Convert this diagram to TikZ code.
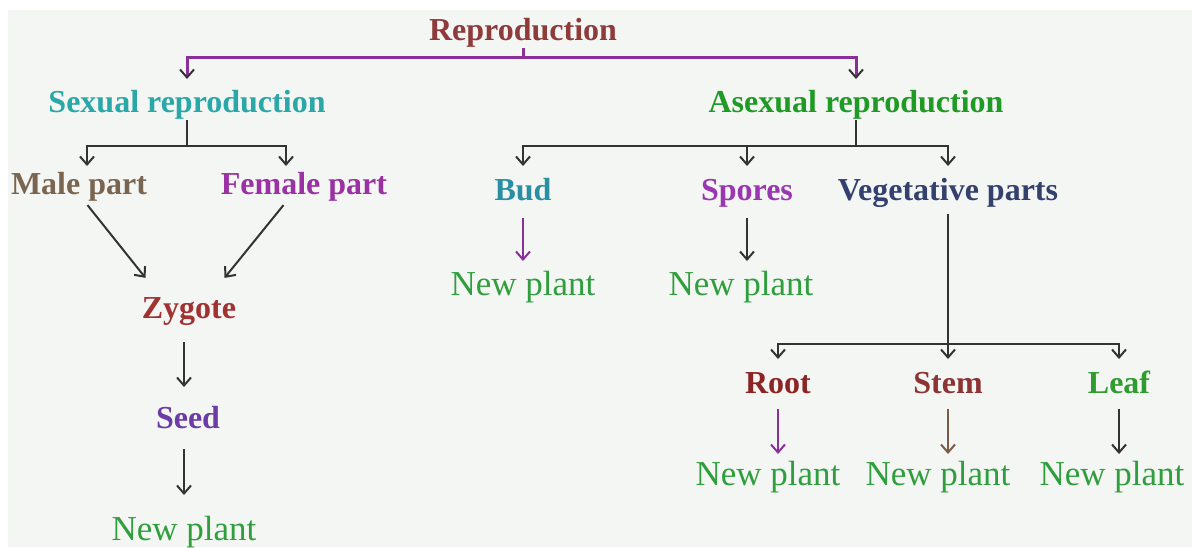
\documentclass[tikz,border=0pt]{standalone}
\usepackage{fontspec}
\setmainfont{Liberation Serif}
\usetikzlibrary{arrows.meta}
\definecolor{bgc}{HTML}{F4F6F4}
\definecolor{cRepro}{HTML}{8E3B3B}
\definecolor{cSex}{HTML}{2AA7A7}
\definecolor{cAsex}{HTML}{1F9A24}
\definecolor{cMale}{HTML}{7A6650}
\definecolor{cFemale}{HTML}{9A32A4}
\definecolor{cBud}{HTML}{2A8FA2}
\definecolor{cSpore}{HTML}{9A36B2}
\definecolor{cVeg}{HTML}{34406E}
\definecolor{cZyg}{HTML}{A03232}
\definecolor{cSeed}{HTML}{6C3CA6}
\definecolor{cRoot}{HTML}{8C2424}
\definecolor{cStem}{HTML}{8C3434}
\definecolor{cLeaf}{HTML}{2E9C2E}
\definecolor{cPlant}{HTML}{2F9E3C}
\definecolor{cLine}{HTML}{333333}
\definecolor{cBar}{HTML}{8A2F9A}
\definecolor{cBrown}{HTML}{7A5A48}

\begin{document}
\begin{tikzpicture}[x=0.5pt, y=-0.5pt, line width=1pt, draw=cLine,
  >={Straight Barb[length=4pt,width=7pt]},
  lbl/.style = {font=\fontsize{16}{19}\selectfont\bfseries, text height=11pt, text depth=3.5pt, inner sep=0pt, anchor=base},
  plant/.style = {font=\fontsize{17.5}{21}\selectfont, text=cPlant, text height=11.5pt, text depth=4pt, inner sep=0pt, anchor=base},
  arr/.style = {->, shorten <=5pt, shorten >=5pt},
  topbar/.style = {cBar, line width=1.5pt}]
\useasboundingbox (0,0) rectangle (1192,547);
\fill[bgc] (8,10) rectangle (1192,547);

% top level
\node[lbl, text=cRepro] (repro) at (523,40) {Reproduction};
\node[lbl, text=cSex] (sexual) at (187,112) {Sexual reproduction};
\node[lbl, text=cAsex] (asexual) at (856,112) {Asexual reproduction};
\coordinate (top) at (523,57);
\draw[topbar] (repro.south) -- (top);
\draw[topbar, -{Straight Barb[length=4pt,width=7pt,color=cLine,line width=1pt]}, shorten >=5pt] (top) -| (sexual.north);
\draw[topbar, -{Straight Barb[length=4pt,width=7pt,color=cLine,line width=1pt]}, shorten >=5pt] (top) -| (asexual.north);

% sexual branch
\node[lbl, text=cMale] (male) at (79,194) {Male part};
\node[lbl, text=cFemale] (female) at (304,194) {Female part};
\node[lbl, text=cZyg] (zygote) at (189,318) {Zygote};
\node[lbl, text=cSeed] (seed) at (188,428) {Seed};
\node[plant] (np1) at (184,540) {New plant};
\coordinate (sbar) at (187,146);
\draw (sexual.south) -- (sbar);
\draw[->, shorten >=2.5pt] (sbar) -| ([xshift=4pt]male.north);
\draw[->, shorten >=2.5pt] (sbar) -| ([xshift=-9pt]female.north);
\draw[arr, shorten <=2pt, shorten >=2pt] ([xshift=3pt]male.south) -- ([xshift=-20.5pt,yshift=7pt]zygote.north);
\draw[arr, shorten <=2pt, shorten >=2pt] ([xshift=-9pt]female.south) -- ([xshift=16.5pt,yshift=7pt]zygote.north);
\draw[arr, shorten <=8pt, shorten >=9pt] ([xshift=-2.5pt]zygote.south) -- ([xshift=-2.5pt]zygote.south |- seed.north);
\draw[arr, shorten <=6.5pt, shorten >=10.5pt] ([xshift=-2pt]seed.south) -- ([xshift=-2pt]seed.south |- np1.north);

% asexual branch
\node[lbl, text=cBud] (bud) at (523,200) {Bud};
\node[lbl, text=cSpore] (spores) at (747,200) {Spores};
\node[lbl, text=cVeg] (veg) at (948,200) {Vegetative parts};
\node[plant] (np2) at (523,295) {New plant};
\node[plant] (np3) at (741,295) {New plant};
\coordinate (abar) at (856,146);
\draw (asexual.south) -- (abar);
\draw[->, shorten >=5.5pt] (abar) -| (bud.north);
\draw[->, shorten >=5.5pt] (abar) -| (spores.north);
\draw[->, shorten >=5.5pt] (abar) -| (veg.north);
\draw[arr, cBar] (bud.south) -- (bud.south |- np2.north);
\draw[arr] (spores.south) -- (spores.south |- np3.north);

% vegetative parts
\node[lbl, text=cRoot] (root) at (778,393) {Root};
\node[lbl, text=cStem] (stem) at (948,393) {Stem};
\node[lbl, text=cLeaf] (leaf) at (1119,393) {Leaf};
\node[plant] (np4) at (768,485) {New plant};
\node[plant] (np5) at (938,485) {New plant};
\node[plant] (np6) at (1112,485) {New plant};
\coordinate (vbar) at (948,344);
\draw[shorten <=3pt] (veg.south) -- (vbar);
\draw[->, shorten >=5.5pt] (vbar) -| (root.north);
\draw[->, shorten >=5.5pt] (vbar) -| (stem.north);
\draw[->, shorten >=5.5pt] (vbar) -| (leaf.north);
\draw[arr, cBar, shorten <=4pt, shorten >=3.5pt] (root.south) -- (root.south |- np4.north);
\draw[arr, cBrown, shorten <=4pt, shorten >=3.5pt] (stem.south) -- (stem.south |- np5.north);
\draw[arr, shorten <=4pt, shorten >=3.5pt] (leaf.south) -- (leaf.south |- np6.north);
\end{tikzpicture}
\end{document}
